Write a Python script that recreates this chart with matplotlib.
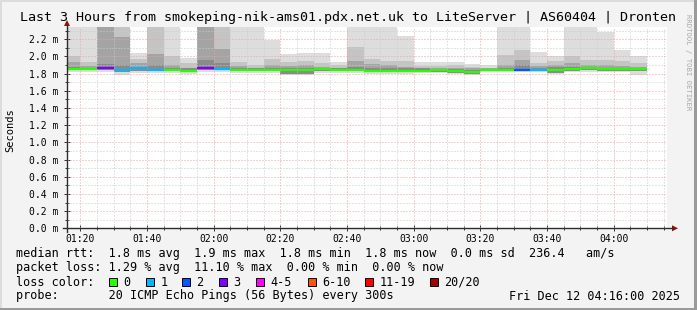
import matplotlib
matplotlib.use('Agg')
import matplotlib.pyplot as plt
import matplotlib.dates as mdates
import numpy as np
import pandas as pd
from matplotlib.lines import Line2D
from matplotlib.patches import Polygon, Rectangle

# ---------------- data ----------------
title = "Last 3 Hours from smokeping-nik-ams01.pdx.net.uk to LiteServer | AS60404 | Dronten"
end_time = pd.Timestamp("2025-12-12 04:16:00")
start_time = end_time - pd.Timedelta(hours=3)
bar_ends = pd.date_range("2025-12-12 01:20", "2025-12-12 04:10", freq="5min")
step = pd.Timedelta(minutes=5)

median = [1.855, 1.855, 1.870, 1.843, 1.862, 1.843, 1.843, 1.835, 1.862, 1.855,
          1.843, 1.843, 1.843, 1.843, 1.843, 1.858, 1.843, 1.840, 1.835, 1.835,
          1.835, 1.835, 1.840, 1.835, 1.815, 1.845, 1.845, 1.845, 1.845, 1.845,
          1.850, 1.862, 1.850, 1.858, 1.850]
loss = [0, 0, 3, 1, 1, 1, 0, 0, 3, 1,
        0, 0, 0, 0, 0, 0, 0, 0, 0, 0,
        0, 0, 0, 0, 0, 0, 0, 2, 1, 0,
        0, 0, 0, 0, 0]
smoke_lo = [1.82, 1.82, 1.82, 1.79, 1.81, 1.81, 1.81, 1.80, 1.82, 1.82,
            1.81, 1.81, 1.81, 1.79, 1.79, 1.81, 1.81, 1.81, 1.80, 1.80,
            1.80, 1.81, 1.81, 1.80, 1.79, 1.82, 1.82, 1.82, 1.82, 1.80,
            1.82, 1.82, 1.82, 1.82, 1.785]
smoke_hi = [2.5, 2.5, 2.5, 2.5, 2.04, 2.5, 2.5, 1.98, 2.5, 2.5,
            2.5, 2.5, 2.19, 2.03, 2.04, 2.04, 1.94, 2.5, 2.5, 2.5,
            2.24, 1.94, 1.93, 1.94, 1.91, 1.90, 2.5, 2.5, 2.05, 2.01,
            2.5, 2.5, 2.28, 2.07, 2.01]
band2_hi = [2.01, 1.93, 2.5, 2.5, 1.975, 2.5, 2.00, 1.92, 2.5, 2.5,
            1.93, 1.90, 1.97, 1.94, 1.95, 1.92, 1.90, 2.11, 1.97, 1.95,
            1.95, 1.89, 1.89, 1.90, 1.88, 1.87, 2.02, 2.07, 1.92, 1.95,
            2.00, 1.96, 1.96, 1.95, 1.92]
band3_hi = [1.93, 1.89, 2.5, 2.23, 1.92, 2.03, 1.90, 1.87, 2.5, 2.09,
            1.89, 1.87, 1.90, 1.89, 1.90, 1.88, 1.87, 1.95, 1.91, 1.90,
            1.88, 1.87, 1.87, 1.87, 1.86, 1.86, 1.90, 1.955, 1.89, 1.90,
            1.92, 1.90, 1.90, 1.89, 1.88]
core_lo = [1.84, 1.84, 1.84, 1.82, 1.83, 1.83, 1.83, 1.82, 1.84, 1.84,
           1.83, 1.83, 1.83, 1.80, 1.80, 1.83, 1.83, 1.83, 1.82, 1.82,
           1.82, 1.82, 1.82, 1.81, 1.80, 1.83, 1.83, 1.83, 1.83, 1.81,
           1.83, 1.84, 1.83, 1.83, 1.83]
core_hi = [1.88, 1.87, 1.91, 1.90, 1.88, 1.90, 1.87, 1.86, 1.96, 1.92,
           1.86, 1.86, 1.87, 1.86, 1.87, 1.87, 1.86, 1.88, 1.87, 1.86,
           1.86, 1.86, 1.85, 1.85, 1.84, 1.85, 1.87, 1.90, 1.87, 1.88,
           1.88, 1.88, 1.87, 1.87, 1.87]

loss_labels = ["0", "1", "2", "3", "4-5", "6-10", "11-19", "20/20"]
loss_colors = ["#26ff00", "#00b8ff", "#0059ff", "#7e00ff", "#ff00ff", "#ff5500", "#ff0000", "#a10000"]
loss_thresholds = [0, 1, 2, 3, 4, 6, 11, 20]

stats_rtt = "median rtt:  1.8 ms avg  1.9 ms max  1.8 ms min  1.8 ms now  0.0 ms sd  236.4   am/s"
stats_loss = "packet loss: 1.29 % avg  11.10 % max  0.00 % min  0.00 % now"
probe_text = "probe:       20 ICMP Echo Pings (56 Bytes) every 300s"
date_text = "Fri Dec 12 04:16:00 2025"
y_major = [0.0, 0.2, 0.4, 0.6, 0.8, 1.0, 1.2, 1.4, 1.6, 1.8, 2.0, 2.2]
y_top = 2.343

# ---------------- figure ----------------
W, H = 697, 310
MONO = "DejaVu Sans Mono"


def fx(px):
    return px / W


def fy(py):
    return 1 - py / H


fig = plt.figure(figsize=(W / 100, H / 100), dpi=100)
fig.patch.set_facecolor("#f3f3f3")

# 3D frame
fig.add_artist(Rectangle((0, fy(310)), fx(697), 2 / H, transform=fig.transFigure, color="#9a9a9a", lw=0))
fig.add_artist(Rectangle((fx(694), 0), 3 / W, 1, transform=fig.transFigure, color="#9a9a9a", lw=0))
fig.add_artist(Rectangle((0, fy(2)), fx(694), 2 / H, transform=fig.transFigure, color="#dcdcdc", lw=0))
fig.add_artist(Rectangle((0, fy(308)), 2 / W, 306 / H, transform=fig.transFigure, color="#dcdcdc", lw=0))

ax = fig.add_axes([fx(67), fy(228.3), 600 / W, 201.3 / H])
ax.set_facecolor("white")
x0 = mdates.date2num(start_time)
x1 = mdates.date2num(end_time)
ax.set_xlim(x0, x1)
ax.set_ylim(0, y_top)
for s in ax.spines.values():
    s.set_visible(False)

width = step / pd.Timedelta(days=1)


def loss_color(n):
    c = loss_colors[0]
    for t, col in zip(loss_thresholds, loss_colors):
        if n >= t:
            c = col
    return c


for i, e in enumerate(bar_ends):
    xs = mdates.date2num(e - step)
    ax.bar(xs, smoke_hi[i] - smoke_lo[i], bottom=smoke_lo[i], width=width, align="edge",
           color="#dddddd", lw=0, zorder=1)
    ax.bar(xs, band2_hi[i] - core_lo[i], bottom=core_lo[i], width=width, align="edge",
           color="#c4c4c4", lw=0, zorder=2)
    ax.bar(xs, band3_hi[i] - core_lo[i], bottom=core_lo[i], width=width, align="edge",
           color="#a4a4a4", lw=0, zorder=3)
    ax.bar(xs, core_hi[i] - core_lo[i], bottom=core_lo[i], width=width, align="edge",
           color="#8a8a8a", lw=0, zorder=4)
    ax.hlines(median[i], xs, xs + width, color=loss_color(loss[i]), lw=1.6, zorder=8)

# grid (rrdtool-style dotted)
dot = (0, (1, 2))
for v in np.arange(0.1, y_top, 0.1):
    v = round(v, 1)
    major = any(abs(v - m) < 1e-6 for m in y_major)
    ax.axhline(v, color="#f2a0a0" if major else "#cacaca", lw=0.72, ls=dot, zorder=6)
grid_times = pd.date_range("2025-12-12 01:20", "2025-12-12 04:15", freq="5min")
for t in grid_times:
    major = t.minute % 20 == 0
    ax.axvline(mdates.date2num(t), color="#f2a0a0" if major else "#cacaca", lw=0.72, ls=dot, zorder=6)

# ticks
ax.set_yticks(y_major)
ax.set_yticklabels([f"{v:.1f} m" for v in y_major], family=MONO, fontsize=7)
ax.set_yticks([round(v, 1) for v in np.arange(0.1, y_top, 0.2)], minor=True)
major_x = [t for t in grid_times if t.minute % 20 == 0]
ax.set_xticks([mdates.date2num(t) for t in major_x])
ax.set_xticklabels([t.strftime("%H:%M") for t in major_x], family=MONO, fontsize=7)
ax.set_xticks([mdates.date2num(t) for t in grid_times if t.minute % 20 != 0], minor=True)
ax.tick_params(axis="both", which="major", length=4, width=0.7, direction="inout", color="#333333", pad=2)
ax.tick_params(axis="both", which="minor", length=3, width=0.7, direction="inout", color="#333333")
ax.tick_params(axis="y", pad=4)

# axis lines with arrows
axis_col = "#2c2c2c"
arrow_col = "#8b1010"
fig.add_artist(Line2D([fx(63), fx(672)], [fy(228.3), fy(228.3)], transform=fig.transFigure, color=axis_col, lw=1))
fig.add_artist(Line2D([fx(67), fx(67)], [fy(232), fy(26)], transform=fig.transFigure, color=axis_col, lw=1))
fig.add_artist(Polygon([[fx(672), fy(225.3)], [fx(678), fy(228.3)], [fx(672), fy(231.3)]],
                       closed=True, transform=fig.transFigure, color=arrow_col, lw=0))
fig.add_artist(Polygon([[fx(64), fy(26)], [fx(67), fy(20)], [fx(70), fy(26)]],
                       closed=True, transform=fig.transFigure, color=arrow_col, lw=0))

# texts
fig.text(fx(20), fy(18), title, family=MONO, fontsize=9.6, va="center", ha="left")
fig.text(fx(10), fy(130), "Seconds", family=MONO, fontsize=7.5, rotation=90, va="center", ha="center")
fig.text(fx(688), fy(62), "RRDTOOL / TOBI OETIKER", family=MONO, fontsize=5.2, rotation=270,
         va="center", ha="center", color="#a8a8a8")

lfs = 8.5
fig.text(fx(16), fy(254), stats_rtt, family=MONO, fontsize=lfs, va="center")
fig.text(fx(16), fy(268), stats_loss, family=MONO, fontsize=lfs, va="center")
fig.text(fx(16), fy(282), "loss color:", family=MONO, fontsize=lfs, va="center")
box_x = [109, 146, 182, 219, 256, 308, 365, 430]
for bx, lab, col in zip(box_x, loss_labels, loss_colors):
    fig.add_artist(Rectangle((fx(bx), fy(286)), 7.5 / W, 8 / H, transform=fig.transFigure,
                             facecolor=col, edgecolor="black", lw=0.7))
    fig.text(fx(bx + 14.5), fy(282), lab, family=MONO, fontsize=lfs, va="center")
fig.text(fx(16), fy(296), probe_text, family=MONO, fontsize=lfs, va="center")
fig.text(fx(680), fy(296), date_text, family=MONO, fontsize=lfs, va="center", ha="right")

fig.savefig("out.png", dpi=100, facecolor=fig.get_facecolor())
